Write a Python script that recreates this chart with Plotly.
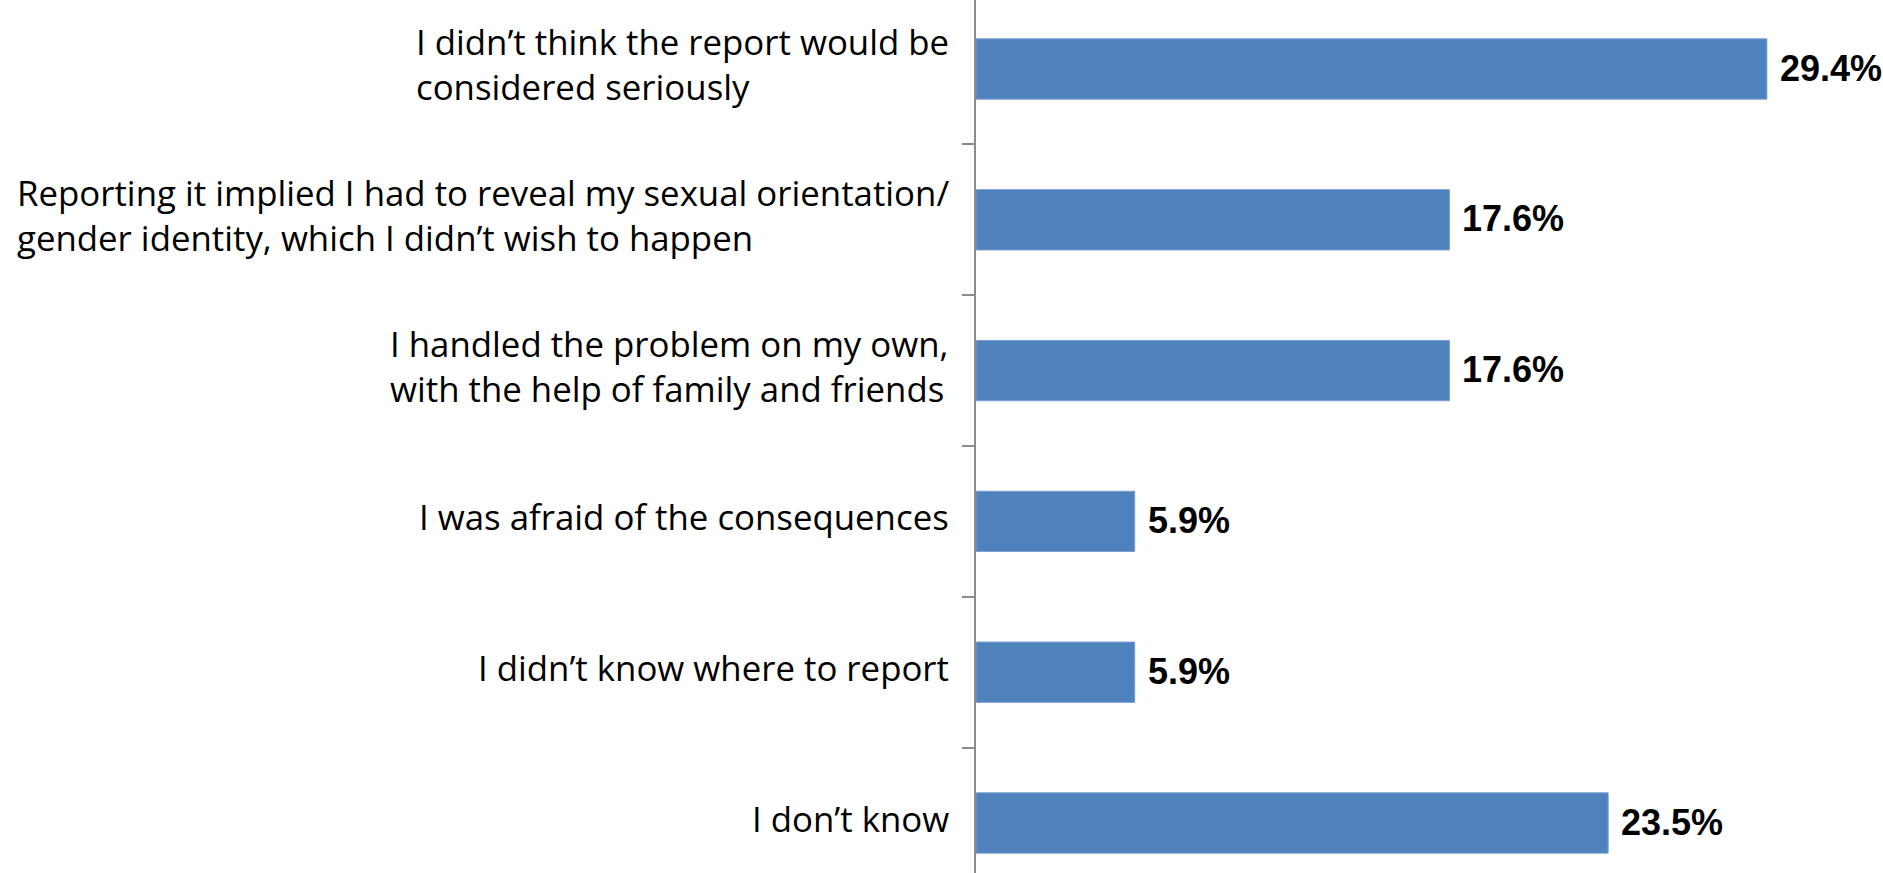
import plotly.graph_objects as go

categories = [
    "I didn’t think the report would be<br>considered seriously",
    "Reporting it implied I had to reveal my sexual orientation/<br>gender identity, which I didn’t wish to happen",
    "I handled the problem on my own,<br>with the help of family and friends",
    "I was afraid of the consequences",
    "I didn’t know where to report",
    "I don’t know",
]
values = [29.4, 17.6, 17.6, 5.9, 5.9, 23.5]
value_labels = ["29.4%", "17.6%", "17.6%", "5.9%", "5.9%", "23.5%"]

BAR_COLOR = "#4F81BD"
AXIS_COLOR = "#8c8c8c"

fig = go.Figure()
fig.add_trace(go.Bar(
    x=values,
    y=categories,
    orientation="h",
    marker=dict(color=BAR_COLOR, line=dict(color="#7a9fd0", width=1)),
    hoverinfo="x+y",
))

annotations = []
for cat, val, lab in zip(categories, values, value_labels):
    annotations.append(dict(
        x=0, y=cat, xref="x", yref="y",
        text=cat, showarrow=False,
        xanchor="right", yanchor="middle", align="left",
        xshift=-25, yshift=5,
        font=dict(family="Open Sans, Lato, sans-serif", size=34.8, color="#000000"),
    ))
    annotations.append(dict(
        x=val, y=cat, xref="x", yref="y",
        text="<b>" + lab + "</b>", showarrow=False,
        xanchor="left", yanchor="middle", align="left",
        xshift=11, yshift=1,
        font=dict(family="Liberation Sans, Arial, sans-serif", size=36, color="#000000"),
    ))

fig.update_layout(
    width=1883, height=873,
    margin=dict(l=976, r=0, t=0, b=0),
    paper_bgcolor="white", plot_bgcolor="white",
    showlegend=False,
    bargap=0.6,
    annotations=annotations,
    xaxis=dict(
        range=[0, 907 / 26.9],
        showgrid=False, zeroline=False, showline=False,
        showticklabels=False, ticks="",
    ),
    yaxis=dict(
        type="category",
        range=[5.3316, -0.4576],
        showgrid=False, zeroline=False,
        showline=True, linecolor=AXIS_COLOR, linewidth=1.5,
        ticks="outside", ticklen=12, tickcolor=AXIS_COLOR, tickwidth=1.5,
        tickson="boundaries",
        showticklabels=False,
    ),
)

fig.write_html(
    "out.html",
    config={"displayModeBar": False},
    post_script="document.body.style.margin='0';document.body.style.overflow='hidden';",
)
